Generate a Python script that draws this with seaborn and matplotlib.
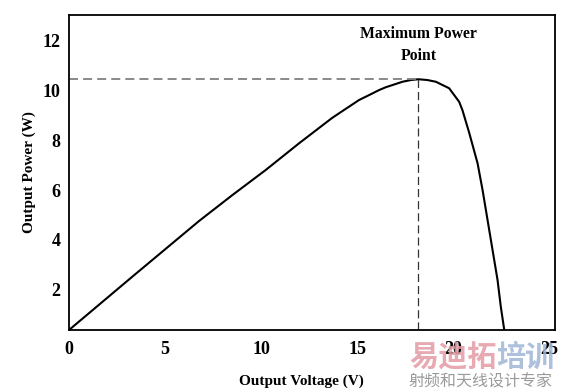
import matplotlib
matplotlib.use("Agg")
import matplotlib.pyplot as plt
import numpy as np
import pandas as pd
import seaborn as sns

# 光伏板输出功率曲线
voltage = [0.0, 3.37, 6.77, 8.51, 10.24, 11.98, 13.71, 15.10, 15.63, 16.15, 16.49,
           17.36, 17.80, 18.19, 18.65, 19.10, 19.79, 20.31, 20.48, 20.83, 21.27,
           21.53, 21.79, 22.05, 22.31, 22.48, 22.66]
power = [0.4, 2.58, 4.76, 5.80, 6.80, 7.87, 8.89, 9.60, 9.80, 10.00, 10.11,
         10.33, 10.40, 10.43, 10.40, 10.33, 10.07, 9.53, 9.20, 8.30, 7.07,
         6.00, 4.80, 3.60, 2.40, 1.33, 0.4]

x_ticks = [0, 5, 10, 15, 20, 25]
y_ticks = [2, 4, 6, 8, 10, 12]

df = pd.DataFrame({"V": voltage, "P": power})

sns.set_style("white")
plt.rcParams["font.family"] = ["Liberation Serif", "DejaVu Serif"]
plt.rcParams["text.color"] = "black"
plt.rcParams["axes.labelcolor"] = "black"
plt.rcParams["xtick.color"] = "black"
plt.rcParams["ytick.color"] = "black"

fig = plt.figure(figsize=(5.62, 3.89), dpi=100)
ax = fig.add_axes([0.1228, 0.1517, 0.8647, 0.8097])

sns.lineplot(data=df, x="V", y="P", color="black", linewidth=1.5, ax=ax)

# 最大功率点
i_max = int(np.argmax(power))
v_mp, p_mp = voltage[i_max], power[i_max]
ax.hlines(p_mp, 0, v_mp, colors="#808080", linestyles=(0, (5, 2.8)), linewidth=1.3)
ax.vlines(v_mp, 0.4, p_mp, colors="#333333", linestyles=(0, (6.5, 3.2)), linewidth=0.9)
ax.text(v_mp, 11.8, "Maximum Power\nPoint", ha="center", va="center",
        fontsize=11.3, fontweight="bold", linespacing=1.55)

ax.set_xlim(0, 25.3)
ax.set_ylim(0.4, 13.0)
ax.set_xticks(x_ticks)
ax.set_yticks(y_ticks)
ax.tick_params(length=0, labelsize=13)
ax.tick_params(axis="x", pad=8)
ax.tick_params(axis="y", pad=6)
for lab in ax.get_xticklabels() + ax.get_yticklabels():
    lab.set_fontweight("bold")

ax.set_xlabel("Output Voltage (V)", fontsize=11, fontweight="bold", labelpad=12)
ax.xaxis.label.set_x(0.479)
ax.set_ylabel("Output Power (W)", fontsize=11, fontweight="bold", labelpad=5)

for s in ax.spines.values():
    s.set_color("black")
    s.set_linewidth(1.3)

# 水印
cjk = ["Noto Sans CJK SC", "DejaVu Sans"]
fig.text(0.728, 0.082, "易迪拓", family=cjk, fontsize=21, fontweight="bold",
         color="#e39aa5", alpha=0.85, ha="left", va="center")
fig.text(0.883, 0.082, "培训", family=cjk, fontsize=21, fontweight="bold",
         color="#9fb6d6", alpha=0.85, ha="left", va="center")
fig.text(0.726, 0.018, "射频和天线设计专家", family=cjk, fontsize=11.5,
         color="#9a9a9a", ha="left", va="center")

fig.savefig("out.png", dpi=100)
